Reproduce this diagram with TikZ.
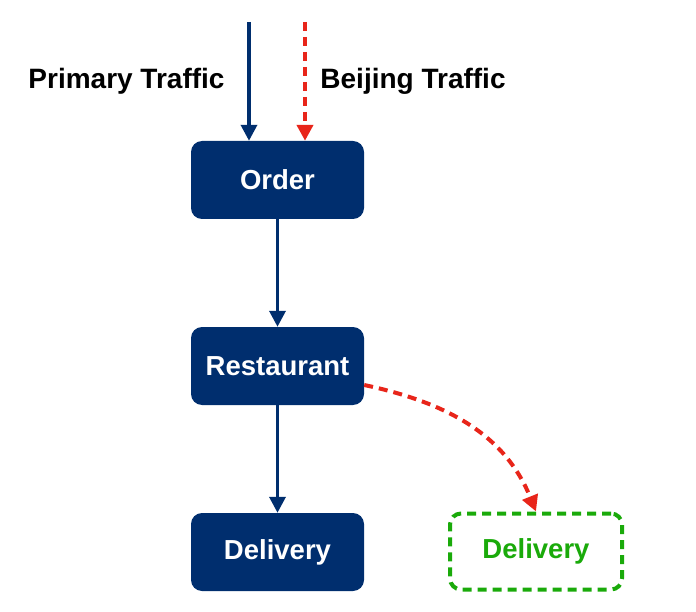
\documentclass[tikz,border=0pt]{standalone}
\usepackage{fontspec}
\setmainfont{Liberation Sans}
\usetikzlibrary{arrows.meta}
\definecolor{navy}{RGB}{0,46,110}
\definecolor{redd}{RGB}{232,37,26}
\definecolor{grn}{RGB}{26,170,10}
\begin{document}
\begin{tikzpicture}[x=1pt,y=-1pt,
  box/.style={rectangle,rounded corners=11pt,minimum width=173pt,minimum height=78pt,inner sep=0pt,font=\fontsize{27.5}{27.5}\selectfont\bfseries},
  navybox/.style={box,fill=navy,text=white},
  greenbox/.style={box,draw=grn,line width=4pt,dash pattern=on 9pt off 6pt,text=grn,minimum width=172pt,minimum height=76pt},
  lbl/.style={font=\fontsize{28}{28}\selectfont\bfseries,text=black},
  bluearrow/.style={draw=navy,line width=3.5pt,-{Triangle[length=16pt,width=16pt]}},
  redarrow/.style={draw=redd,line width=4pt,dash pattern=on 9pt off 6pt,-{Triangle[length=16pt,width=16pt]}}
]
\useasboundingbox (0,0) rectangle (696,612);
\node[navybox] (order) at (277.5,180) {Order};
\node[navybox] (rest) at (277.5,366) {Restaurant};
\node[navybox] (del) at (277.5,552) {Delivery};
\node[greenbox] (gdel) at (536,551.5) {Delivery};
\coordinate (ptop) at (249,22);
\coordinate (btop) at (305,22);
\node[lbl] (plbl) at (126.5,81) {Primary Traffic};
\node[lbl] (blbl) at (413,81) {Beijing Traffic};
\draw[bluearrow] (ptop) -- (ptop |- order.north);
\draw[redarrow] (btop) -- (btop |- order.north);
\draw[bluearrow] (order) -- (rest);
\draw[bluearrow] (rest) -- (del);
\draw[redarrow] (rest.east) ++(0,19) coordinate (rs) (rs) to[out=-12,in=112] (gdel.north);
\end{tikzpicture}
\end{document}
